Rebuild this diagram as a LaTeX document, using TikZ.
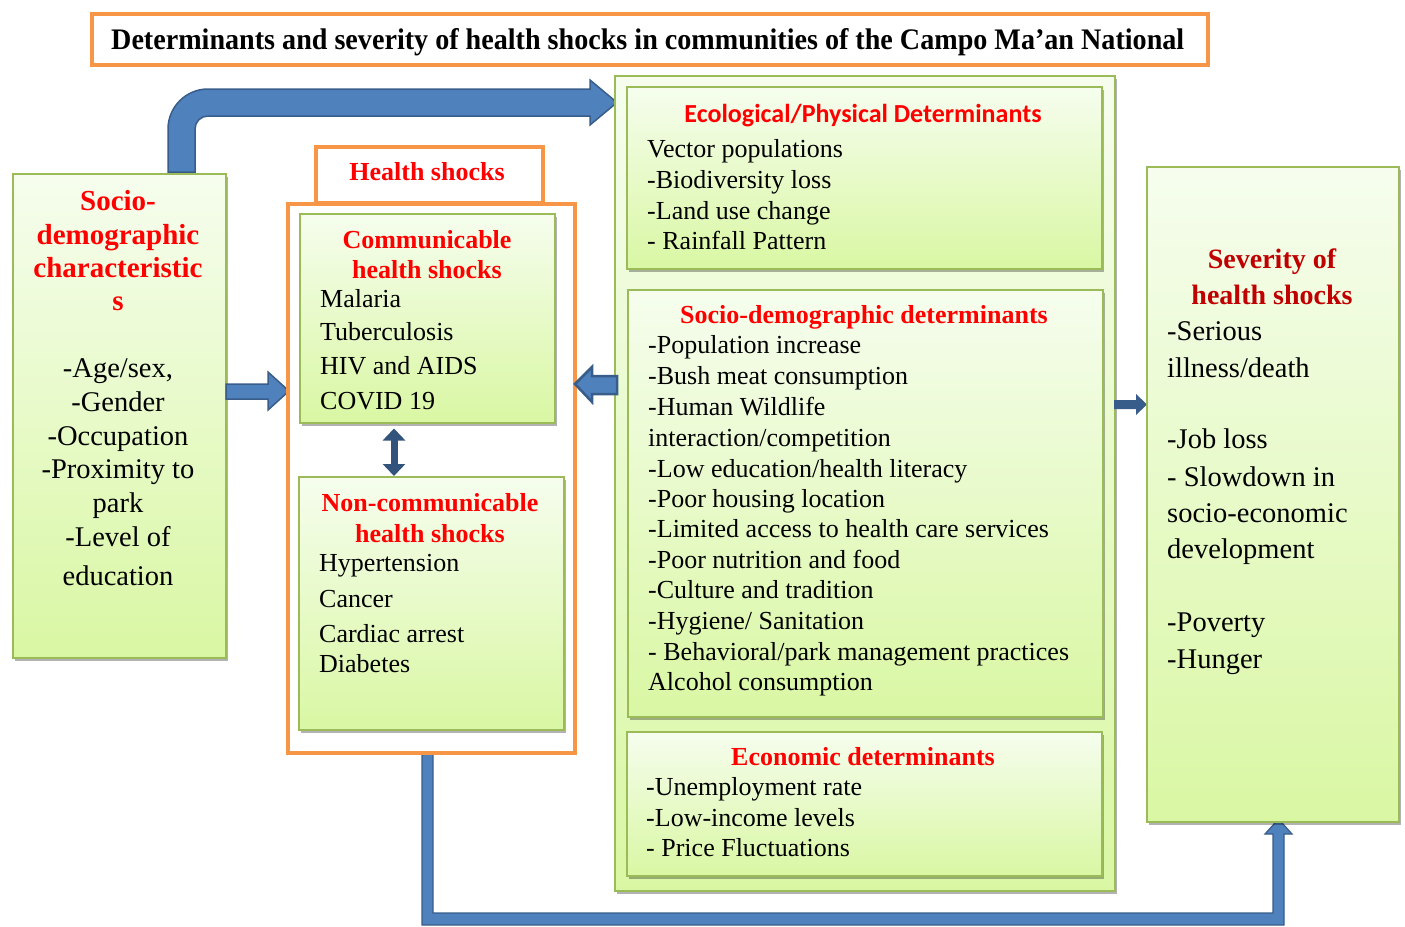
\documentclass[tikz,border=0pt]{standalone}
\usepackage{graphicx}
\usepackage{fontspec}
\setmainfont{Liberation Serif}
\newfontfamily\calib{Carlito}
\usetikzlibrary{shadows,arrows.meta}
\definecolor{orng}{HTML}{F79646}
\definecolor{grn}{HTML}{9BBB59}
\definecolor{gtop}{HTML}{F6FDEE}
\definecolor{gbot}{HTML}{D9F7A3}
\definecolor{bfill}{HTML}{4F81BD}
\definecolor{bdark}{HTML}{385D8A}
\definecolor{dred}{HTML}{C00000}
\definecolor{rred}{HTML}{FF0000}
\newcommand\fsz[1]{\fontsize{#1}{#1}\selectfont}
\begin{document}
\begin{tikzpicture}[x=1pt,y=-1pt,
  gbox/.style={draw=grn,line width=1.5pt,top color=gtop,bottom color=gbot,inner sep=0pt,anchor=north west,
    drop shadow={shadow xshift=2pt,shadow yshift=-3pt,opacity=0.3,fill=black}},
  obox/.style={draw=orng,line width=4pt,inner sep=0pt,anchor=north west},
  blockarrow/.style={fill=bfill,draw=bdark,line width=1.5pt,line join=miter},
  tl/.style={anchor=base west,inner sep=0pt},
  tc/.style={anchor=base,inner sep=0pt},
  midtxt/.style={tl,font=\fsz{26}},
  hstxt/.style={tl,font=\fsz{26}},
  lefttxt/.style={tc,font=\fsz{28.5}},
  sevtxt/.style={tl,font=\fsz{28.5}},
  redhead/.style={tc,text=rred,font=\fsz{26}\bfseries},
]
\useasboundingbox (0,0) rectangle (1405,926);

% ---------- title ----------
\node[obox,minimum width=1116pt,minimum height=51pt] (title) at (90,12) {};
\node[tl] (titletext) at (111,49) {\resizebox{1073pt}{21pt}{\bfseries Determinants and severity of health shocks in communities of the Campo Ma’an National}};

% ---------- top curved arrow ----------
\coordinate (ta1) at (168,172);
\coordinate (ta2) at (617,102.5);
\path[blockarrow] (168,172) -- (168,129) .. controls (168,107) and (186,89) .. (208,89)
  -- (590,89) -- (590,80) -- (ta2) -- (590,125) -- (590,116) -- (208,116)
  .. controls (200.8,116) and (195,121.8) .. (195,129) -- (195,172) -- cycle;

% ---------- bottom arrow ----------
\path[blockarrow,line width=1.2pt] (422,752) -- (422,925) -- (1284,925) -- (1284,834) -- (1292,834)
  -- (1278.5,819) -- (1265,834) -- (1273,834) -- (1273,913) -- (433,913) -- (433,752) -- cycle;

% ---------- left box ----------
\node[gbox,minimum width=213pt,minimum height=484pt] (left) at (12,173) {};
\node[tc,text=rred,font=\fsz{29}\bfseries] (l1) at (118,210) {Socio-};
\node[tc,text=rred,font=\fsz{29}\bfseries] (l2) at (118,244) {demographic};
\node[tc,text=rred,font=\fsz{29}\bfseries] (l3) at (118,277) {characteristic};
\node[tc,text=rred,font=\fsz{29}\bfseries] (l4) at (118,310) {s};
\node[lefttxt] (l5) at (118,377) {-Age/sex,};
\node[lefttxt] (l6) at (118,411) {-Gender};
\node[lefttxt] (l7) at (118,445) {-Occupation};
\node[lefttxt] (l8) at (118,478) {-Proximity to};
\node[lefttxt] (l9) at (118,512) {park};
\node[lefttxt] (l10) at (118,546) {-Level of};
\node[lefttxt] (l11) at (118,585) {education};

% ---------- arrow left -> health shocks ----------
\path[blockarrow] (226,384) -- (268,384) -- (268,372) -- (289,391) -- (268,410) -- (268,399) -- (226,399) -- cycle;

% ---------- health shocks ----------
\node[obox,minimum width=287pt,minimum height=549pt] (hsout) at (286,202) {};
\node[obox,fill=white,minimum width=227pt,minimum height=56pt] (hshead) at (314,145) {};
\node[redhead] (hst) at (427,180) {Health shocks};

\node[gbox,minimum width=255pt,minimum height=209pt] (comm) at (299,213) {};
\node[redhead] (c1) at (427,248) {Communicable};
\node[redhead] (c2) at (427,278) {health shocks};
\node[hstxt] (c3) at (320,307) {Malaria};
\node[hstxt] (c4) at (320,340) {Tuberculosis};
\node[hstxt] (c5) at (320,374) {HIV and AIDS};
\node[hstxt] (c6) at (320,409) {COVID 19};

\node[gbox,minimum width=265pt,minimum height=253pt] (ncomm) at (298,476) {};
\node[redhead] (n1) at (430,511) {Non-communicable};
\node[redhead] (n2) at (430,542) {health shocks};
\node[hstxt] (n3) at (319,571) {Hypertension};
\node[hstxt] (n4) at (319,607) {Cancer};
\node[hstxt] (n5) at (319,642) {Cardiac arrest};
\node[hstxt] (n6) at (319,672) {Diabetes};

\draw[draw=bdark!90!black,line width=7pt,{Triangle[width=22pt,length=12pt]}-{Triangle[width=22pt,length=12pt]}]
  (comm.south -| 394,0) ++(0,5) coordinate (da1) -- (ncomm.north -| 394,0) coordinate (da2);

% ---------- middle column ----------
\node[gbox,minimum width=500pt,minimum height=815pt] (mid) at (614,75) {};

\node[gbox,minimum width=475pt,minimum height=182pt] (eco) at (626,86) {};
\node[tc,text=rred,font=\fsz{26}\calib\bfseries] (e0) at (863,122) {Ecological/Physical Determinants};
\node[midtxt] (e1) at (647,157) {Vector populations};
\node[midtxt] (e2) at (647,188) {-Biodiversity loss};
\node[midtxt] (e3) at (647,219) {-Land use change};
\node[midtxt] (e4) at (647,249) {- Rainfall Pattern};

\node[gbox,minimum width=475pt,minimum height=427pt] (socio) at (627,289) {};
\node[redhead] (s0) at (864,323) {Socio-demographic determinants};
\node[midtxt] (s1) at (648,353) {-Population increase};
\node[midtxt] (s2) at (648,384) {-Bush meat consumption};
\node[midtxt] (s3) at (648,415) {-Human Wildlife};
\node[midtxt] (s4) at (648,446) {interaction/competition};
\node[midtxt] (s5) at (648,477) {-Low education/health literacy};
\node[midtxt] (s6) at (648,507) {-Poor housing location};
\node[midtxt] (s7) at (648,537) {-Limited access to health care services};
\node[midtxt] (s8) at (648,568) {-Poor nutrition and food};
\node[midtxt] (s9) at (648,598) {-Culture and tradition};
\node[midtxt] (s10) at (648,629) {-Hygiene/ Sanitation};
\node[midtxt] (s11) at (648,660) {- Behavioral/park management practices};
\node[midtxt] (s12) at (648,690) {Alcohol consumption};

\node[gbox,minimum width=475pt,minimum height=144pt] (econ) at (626,731) {};
\node[redhead] (k0) at (863,765) {Economic determinants};
\node[midtxt] (k1) at (646,795) {-Unemployment rate};
\node[midtxt] (k2) at (646,826) {-Low-income levels};
\node[midtxt] (k3) at (646,856) {- Price Fluctuations};

% ---------- arrow middle -> health shocks ----------
\path[blockarrow,line width=2.5pt] (617,376) -- (592,376) -- (592,367) -- (575,384) -- (592,402) -- (592,394) -- (617,394) -- cycle;

% ---------- arrow middle -> severity ----------
\path[fill=bdark] (1114,400) -- (1136,400) -- (1136,394) -- (1147,404.5) -- (1136,415) -- (1136,409) -- (1114,409) -- cycle;

% ---------- severity ----------
\node[gbox,minimum width=252pt,minimum height=655pt] (sev) at (1146,166) {};
\node[tc,text=dred,font=\fsz{28}\bfseries] (v0) at (1272,268) {Severity of};
\node[tc,text=dred,font=\fsz{28}\bfseries] (v00) at (1272,304) {health shocks};
\node[sevtxt] (v1) at (1167,340) {-Serious};
\node[sevtxt] (v2) at (1167,377) {illness/death};
\node[sevtxt] (v3) at (1167,448) {-Job loss};
\node[sevtxt] (v4) at (1167,486) {- Slowdown in};
\node[sevtxt] (v5) at (1167,522) {socio-economic};
\node[sevtxt] (v6) at (1167,558) {development};
\node[sevtxt] (v7) at (1167,631) {-Poverty};
\node[sevtxt] (v8) at (1167,668) {-Hunger};
\end{tikzpicture}
\end{document}
